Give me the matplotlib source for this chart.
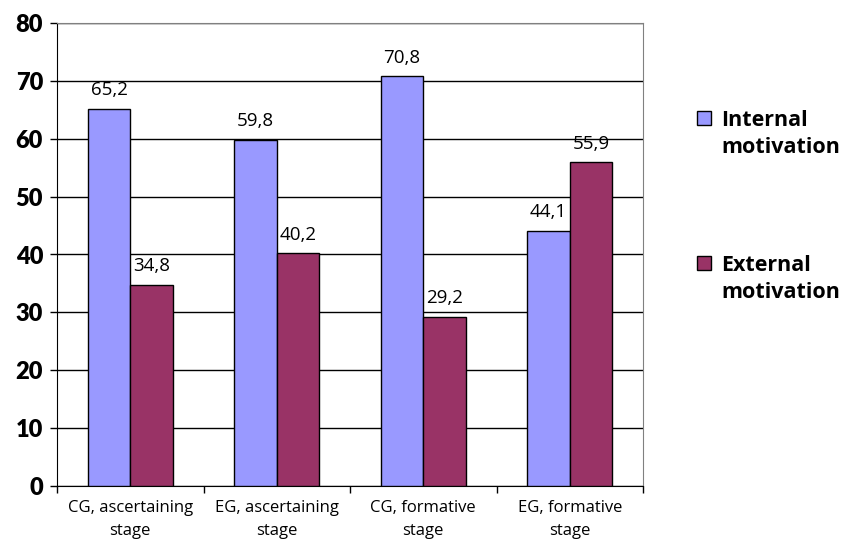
import matplotlib.pyplot as plt
from matplotlib.patches import Rectangle
import numpy as np

# group labels and the two motivation series
categories = ["CG, ascertaining\nstage", "EG, ascertaining\nstage",
              "CG, formative\nstage", "EG, formative\nstage"]
internal = [65.2, 59.8, 70.8, 44.1]
external = [34.8, 40.2, 29.2, 55.9]
series_names = ["Internal\nmotivation", "External\nmotivation"]
colors = ["#9999FF", "#993366"]

plt.rcParams['font.family'] = ['Lato', 'DejaVu Sans']

fig = plt.figure(figsize=(8.47, 5.40), dpi=100)
ax = fig.add_axes([57 / 847, 54 / 540, 586 / 847, 463 / 540])

x = np.arange(len(categories))
w = 0.29
b1 = ax.bar(x - w / 2, internal, w, color=colors[0], edgecolor="black", linewidth=1, zorder=3)
b2 = ax.bar(x + w / 2, external, w, color=colors[1], edgecolor="black", linewidth=1, zorder=3)

# value labels with decimal comma
for bars, vals in ((b1, internal), (b2, external)):
    for rect, v in zip(bars, vals):
        ax.annotate(f"{v:.1f}".replace(".", ","),
                    (rect.get_x() + rect.get_width() / 2, v),
                    xytext=(0, 7), textcoords="offset points",
                    ha="center", va="bottom", fontsize=13.5, family="Open Sans")

ax.set_xlim(-0.5, len(categories) - 0.5)
ax.set_ylim(0, 80)
ax.set_yticks(range(0, 81, 10))
ax.yaxis.grid(True, color="black", linewidth=1)
ax.set_axisbelow(True)

for lbl in ax.get_yticklabels():
    lbl.set_fontweight("heavy")
    lbl.set_fontsize(17)
ax.tick_params(axis="y", length=5, width=1, pad=5)

# category labels between boundary ticks
ax.set_xticks(x)
ax.set_xticklabels(categories, fontsize=12, family="Open Sans", linespacing=1.6)
ax.tick_params(axis="x", length=0, pad=10)
ax.set_xticks(np.arange(-0.5, len(categories)), minor=True)
ax.tick_params(axis="x", which="minor", length=5, width=1)

ax.spines["left"].set_color("black")
ax.spines["bottom"].set_color("black")
ax.spines["top"].set_color("#808080")
ax.spines["right"].set_color("#808080")

# legend on the right
for i, (name, col) in enumerate(zip(series_names, colors)):
    y0 = 540 - 111 - i * 145
    fig.patches.append(Rectangle((697 / 847, (y0 - 14) / 540), 14 / 847, 14 / 540,
                                 transform=fig.transFigure, facecolor=col,
                                 edgecolor="black", linewidth=1))
    fig.text(721 / 847, (y0 + 1) / 540, name, ha="left", va="top",
             fontsize=15.5, fontweight="bold", family="Open Sans", linespacing=1.4)

fig.savefig("out.png", dpi=100)
